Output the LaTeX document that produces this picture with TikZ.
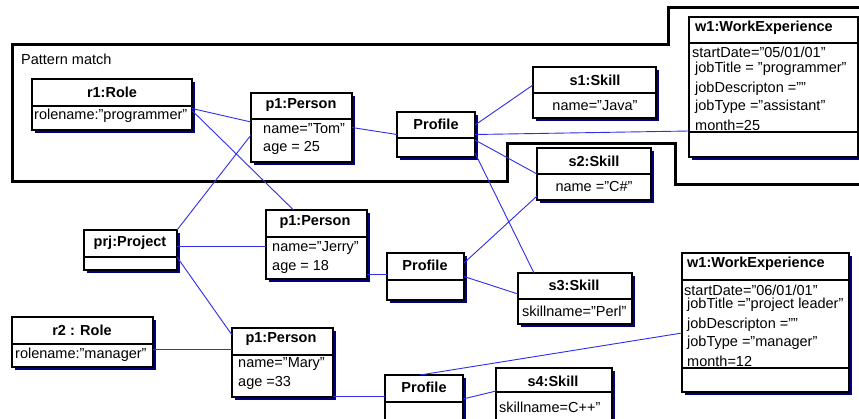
\documentclass[tikz,border=0pt]{standalone}
\usepackage{fontspec}
\setmainfont{Liberation Sans}
\usetikzlibrary{shadows}
\definecolor{linkblue}{RGB}{45,45,235}
\definecolor{shadownavy}{RGB}{0,0,128}

% object box: name, left, top, right, bottom, divider
\newcommand\objbox[6]{%
  \node[objframe, minimum width={(#4-#2)*1pt}, minimum height={(#5-#3)*1pt}] (#1) at (#2,#3) {};
  \draw[boxline] (#2,#6) -- (#4,#6);
}

\begin{document}
\begin{tikzpicture}[x=1pt, y=-1pt,
  objframe/.style={draw=black, line width=1.2pt, fill=white, inner sep=0pt, outer sep=0pt, anchor=north west,
    general shadow={fill=shadownavy, shadow xshift=3pt, shadow yshift=-3pt}},
  boxline/.style={draw=black, line width=1.2pt},
  title/.style={font=\fontsize{14.5}{17}\selectfont\bfseries, inner sep=0pt},
  attr/.style={font=\fontsize{14.5}{17}\selectfont, inner sep=0pt, anchor=west},
  assoc/.style={draw=linkblue, line width=0.9pt},
  matchframe/.style={draw=black, line width=3pt}]
	\clip (0,0) rectangle (859,418);
	\fill[white] (0,0) rectangle (859,418);
	\draw[matchframe] (862,7) -- (668,7) -- (668,44) -- (12,44) -- (12,181) -- (507,181)
		-- (507,143) -- (675,143) -- (675,184) -- (862,184);
	\node[attr] (pm) at (21,59) {Pattern match};

	\objbox{r1}{32}{79}{192}{130}{106}
	\objbox{tom}{251}{93}{352}{162}{119}
	\objbox{prof1}{397}{112}{475}{157}{138}
	\objbox{s1}{533}{67}{656}{118}{93}
	\objbox{w1}{689}{17}{858}{157}{43}
	\draw[boxline] (689,132) -- (858,132);
	\objbox{s2}{537}{148}{651}{200}{174}
	\objbox{prj}{84}{230}{177}{270}{257}
	\objbox{jerry}{266}{210}{367}{279}{237}
	\objbox{prof2}{387}{253}{464}{300}{280}
	\objbox{s3}{518}{273}{632}{324}{299}
	\objbox{r2}{12}{317}{153}{367}{344}
	\objbox{mary}{232}{328}{333}{397}{355}
	\objbox{prof3}{385}{375}{463}{428}{402}
	\objbox{s4}{496}{368}{612}{428}{392}
	\objbox{w2}{682}{253}{849}{392}{280}
	\draw[boxline] (682,368) -- (849,368);

	\node[title] (r1-t) at (112,92) {r1:Role};
	\node[attr] (r1-a) at (34,116) {rolename:"programmer"};
	\node[title] (tom-t) at (301,105) {p1:Person};
	\node[attr] (tom-a) at (263,129) {name="Tom"};
	\node[attr] (tom-b) at (263,148) {age = 25};
	\node[title] (prof1-t) at (436,124) {Profile};
	\node[title] (s1-t) at (595,80) {s1:Skill};
	\node[attr,anchor=center] (s1-a) at (595,106) {name="Java"};
	\node[title,anchor=west] (w1-t) at (695,28) {w1:WorkExperience};
	\node[attr] (w1-a) at (692,52) {startDate="05/01/01"};
	\node[attr] (w1-b) at (695,69) {jobTitle = "programmer"};
	\node[attr] (w1-c) at (695,89) {jobDescripton =""};
	\node[attr] (w1-d) at (695,107) {jobType ="assistant"};
	\node[attr] (w1-e) at (695,125) {month=25};
	\node[title] (s2-t) at (594,161) {s2:Skill};
	\node[attr,anchor=center] (s2-a) at (594,187) {name ="C\#"};
	\node[title] (prj-t) at (130,243) {prj:Project};
	\node[title] (jerry-t) at (315,222) {p1:Person};
	\node[attr] (jerry-a) at (272,248) {name="Jerry"};
	\node[attr] (jerry-b) at (272,267) {age = 18};
	\node[title] (prof2-t) at (425,265) {Profile};
	\node[title] (s3-t) at (574,285) {s3:Skill};
	\node[attr] (s3-a) at (522,311) {skillname="Perl"};
	\node[title] (r2-t) at (82,330) {r2 : Role};
	\node[attr] (r2-a) at (15,355) {rolename:"manager"};
	\node[title] (mary-t) at (281,339) {p1:Person};
	\node[attr] (mary-a) at (238,364) {name="Mary"};
	\node[attr] (mary-b) at (238,383) {age =33};
	\node[title] (prof3-t) at (424,387) {Profile};
	\node[title] (s4-t) at (553,381) {s4:Skill};
	\node[attr] (s4-a) at (499,407) {skillname=C++"};
	\node[title,anchor=west] (w2-t) at (687,264) {w1:WorkExperience};
	\node[attr] (w2-a) at (684,290) {startDate="06/01/01"};
	\node[attr] (w2-b) at (687,305) {jobTitle ="project leader"};
	\node[attr] (w2-c) at (687,325) {jobDescripton =""};
	\node[attr] (w2-d) at (687,343) {jobType ="manager"};
	\node[attr] (w2-e) at (687,361) {month=12};

	\draw[assoc] ([yshift=-4pt]r1.east) -- ([yshift=5.5pt]tom.west);
	\draw[assoc] ([yshift=-6pt]r1.east) -- ([xshift=-23pt]jerry.north);
	\draw[assoc] ([yshift=-7.5pt]tom.west) -- (prj.north east);
	\draw[assoc] (tom.east) -- (prof1.west);
	\draw[assoc] ([yshift=9.5pt]prof1.east) -- ([yshift=7.5pt]s1.west);
	\draw[assoc] (prof1.east) -- ([yshift=26pt]w1.south west);
	\draw[assoc] ([yshift=-5.5pt]prof1.east) -- (s2.west);
	\draw[assoc] ([yshift=4pt]prof1.south east) -- ([xshift=-41pt]s3.north);
	\draw[assoc] ([yshift=13.5pt]prof2.east) -- ([yshift=4pt]s2.south west);
	\draw[assoc] (prof2.east) -- ([yshift=4.5pt]s3.west);
	\draw[assoc] ([yshift=4pt]prj.east) -- ([yshift=-1.5pt]jerry.west);
	\draw[assoc] ([yshift=-7pt]prj.east) -- ([yshift=-7pt]mary.north west);
	\draw[assoc] ([yshift=5pt]jerry.south east) -- ([yshift=2.5pt]prof2.west);
	\draw[assoc] ([yshift=-7pt]r2.east) -- ([yshift=13.5pt]mary.west);
	\draw[assoc] ([yshift=1pt]mary.south east) -- ([yshift=-21pt]prof3.north west);
	\draw[assoc] ([xshift=-4pt]prof3.north) -- ([yshift=-10.5pt]w2.west);
	\draw[assoc] ([yshift=-24pt]prof3.north east) -- ([yshift=-23pt]s4.north west);
\end{tikzpicture}
\end{document}
